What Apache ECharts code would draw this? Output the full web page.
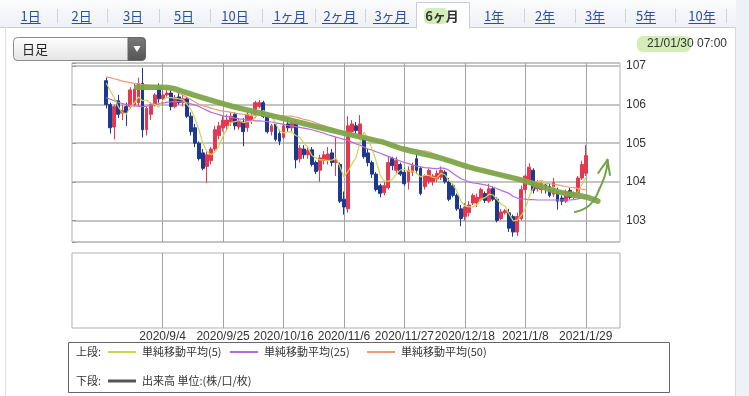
<!DOCTYPE html>
<html><head><meta charset="utf-8">
<script src="https://cdn.jsdelivr.net/npm/echarts@6/dist/echarts.min.js"></script>
<style>html,body{margin:0;padding:0;background:#fff;}#c{width:749px;height:396px;}</style>
</head><body><div id="c"></div>
<script>
// ---------- data ----------
const dates = [
'2020/8/17','2020/8/18','2020/8/19','2020/8/20','2020/8/21',
'2020/8/24','2020/8/25','2020/8/26','2020/8/27','2020/8/28',
'2020/8/31','2020/9/1','2020/9/2','2020/9/3','2020/9/4',
'2020/9/7','2020/9/8','2020/9/9','2020/9/10','2020/9/11',
'2020/9/14','2020/9/15','2020/9/16','2020/9/17','2020/9/18',
'2020/9/21','2020/9/22','2020/9/23','2020/9/24','2020/9/25',
'2020/9/28','2020/9/29','2020/9/30','2020/10/1','2020/10/2',
'2020/10/5','2020/10/6','2020/10/7','2020/10/8','2020/10/9',
'2020/10/12','2020/10/13','2020/10/14','2020/10/15','2020/10/16',
'2020/10/19','2020/10/20','2020/10/21','2020/10/22','2020/10/23',
'2020/10/26','2020/10/27','2020/10/28','2020/10/29','2020/10/30',
'2020/11/2','2020/11/3','2020/11/4','2020/11/5','2020/11/6',
'2020/11/9','2020/11/10','2020/11/11','2020/11/12','2020/11/13',
'2020/11/16','2020/11/17','2020/11/18','2020/11/19','2020/11/20',
'2020/11/23','2020/11/24','2020/11/25','2020/11/26','2020/11/27',
'2020/11/30','2020/12/1','2020/12/2','2020/12/3','2020/12/4',
'2020/12/7','2020/12/8','2020/12/9','2020/12/10','2020/12/11',
'2020/12/14','2020/12/15','2020/12/16','2020/12/17','2020/12/18',
'2020/12/21','2020/12/22','2020/12/23','2020/12/24','2020/12/25',
'2020/12/28','2020/12/29','2020/12/30','2020/12/31','2021/1/1',
'2021/1/4','2021/1/5','2021/1/6','2021/1/7','2021/1/8',
'2021/1/11','2021/1/12','2021/1/13','2021/1/14','2021/1/15',
'2021/1/18','2021/1/19','2021/1/20','2021/1/21','2021/1/22',
'2021/1/25','2021/1/26','2021/1/27','2021/1/28','2021/1/29'];
const padLeft = ['L0','L1','L2','L3','L4','L5','L6','L7'];
const padRight = ['R0','R1','R2','R3','R4','R5','R6','R7'];
const dateTicks = ['2020/9/4','2020/9/25','2020/10/16','2020/11/6','2020/11/27','2020/12/18','2021/1/8','2021/1/29'];
const priceTicks = [103,104,105,106,107];

const opens = [106.62,106.00,105.42,106.10,105.78,105.95,105.95,106.00,106.05,106.55,
105.35,105.75,106.00,106.45,106.15,106.25,106.30,105.95,106.20,106.05,
106.15,105.70,105.40,105.00,104.75,104.40,104.55,104.85,105.20,105.40,
105.45,105.55,105.75,105.42,105.55,105.40,105.60,105.75,105.95,106.05,
105.70,105.30,105.50,105.25,105.15,105.50,105.40,105.52,104.60,104.85,
104.70,104.83,104.50,104.30,104.55,104.55,104.75,104.50,104.45,103.55,
103.30,105.30,105.45,105.20,105.10,104.75,104.50,104.20,103.90,103.72,
103.85,104.60,104.30,104.45,104.25,104.00,104.25,104.60,104.35,103.88,
104.00,104.00,104.08,104.12,104.25,104.00,103.90,103.65,103.30,103.10,
103.20,103.45,103.45,103.55,103.70,103.50,103.82,103.55,103.05,103.20,
103.20,103.10,102.70,103.05,103.80,104.00,104.30,103.82,103.80,103.92,
103.88,103.68,103.75,103.58,103.50,103.78,103.60,103.72,104.10,104.22];
const closes = [106.00,105.40,105.95,105.75,105.85,105.80,106.38,106.40,106.55,105.35,
105.90,106.00,106.25,106.15,106.25,106.30,105.95,106.18,106.05,106.15,
105.70,105.30,105.00,104.60,104.35,104.70,104.85,105.35,105.45,105.60,
105.60,105.70,105.45,105.58,105.30,105.75,105.70,106.05,106.05,105.70,
105.30,105.45,105.10,105.05,105.45,105.40,105.52,104.57,104.87,104.70,
104.82,104.45,104.27,104.62,104.70,104.72,104.50,104.55,103.50,103.35,
105.45,105.50,105.33,105.50,104.65,104.50,104.20,103.80,103.70,103.90,
104.50,104.42,104.55,104.20,103.95,104.30,104.42,104.30,103.70,104.15,
104.30,104.15,104.22,104.30,104.00,103.55,103.65,103.30,103.05,103.35,
103.40,103.65,103.60,103.80,103.52,103.82,103.55,103.00,103.22,103.25,
102.80,102.70,103.10,103.80,104.15,104.38,103.78,103.95,103.95,103.82,
103.65,103.98,103.50,103.50,103.75,103.60,103.70,104.10,104.45,104.68];
const lows = [105.90,105.25,105.10,105.65,105.60,105.45,105.90,105.95,105.95,105.15,
105.20,105.60,105.95,106.05,106.00,106.20,105.85,105.90,106.00,105.95,
105.65,105.20,104.90,104.55,104.30,103.97,104.45,104.80,105.10,105.30,
105.35,105.45,105.35,105.35,104.92,105.30,105.50,105.65,105.90,105.65,
105.25,105.20,105.05,104.95,105.10,105.30,105.30,104.35,104.50,104.60,
104.60,104.40,104.20,104.00,104.45,104.45,104.40,104.15,103.45,103.15,
103.20,105.20,105.25,105.10,104.60,104.40,104.10,103.75,103.60,103.65,
103.80,104.30,104.20,104.15,103.90,103.80,104.15,104.20,103.65,103.80,
103.95,103.90,104.00,104.05,103.95,103.50,103.60,103.25,102.85,103.00,
103.10,103.40,103.35,103.50,103.45,103.45,103.50,102.95,103.00,103.15,
102.70,102.58,102.60,103.00,103.70,103.95,103.70,103.75,103.70,103.70,
103.60,103.60,103.28,103.40,103.45,103.55,103.55,103.65,104.05,104.15];
const highs = [106.70,106.05,106.00,106.25,106.00,106.05,106.45,106.55,106.70,106.95,
105.95,106.05,106.30,106.55,106.40,106.40,106.40,106.25,106.35,106.25,
106.20,105.80,105.50,105.05,104.85,104.78,104.90,105.45,105.55,105.70,
105.75,105.80,105.80,105.65,105.65,105.80,105.80,106.10,106.12,106.10,
105.80,105.50,105.55,105.35,105.55,105.65,105.60,105.60,104.95,104.95,
104.90,104.90,104.55,104.70,104.80,104.90,104.85,105.15,104.50,103.75,
105.70,105.60,105.55,105.73,105.20,104.85,104.55,104.25,103.95,104.00,
104.65,104.65,104.65,104.50,104.35,104.40,104.50,104.74,104.40,104.20,
104.35,104.20,104.30,104.40,104.30,104.10,103.95,103.70,103.40,103.45,
103.50,103.70,103.70,103.85,103.75,103.95,103.88,103.60,103.30,103.30,
103.30,103.15,103.20,103.90,104.20,104.48,104.35,104.05,104.00,103.98,
103.95,104.10,103.85,103.65,103.80,103.85,103.75,104.15,104.55,104.95];
const ma5 = [106.56,106.36,106.17,105.94,105.79,105.75,105.95,106.04,106.20,106.10,
106.12,106.04,106.01,105.93,106.11,106.19,106.18,106.17,106.15,106.13,
106.01,105.88,105.64,105.35,104.99,104.79,104.70,104.77,104.94,105.19,
105.37,105.54,105.56,105.59,105.53,105.56,105.56,105.68,105.77,105.85,
105.76,105.71,105.52,105.32,105.27,105.29,105.30,105.20,105.16,105.01,
104.90,104.68,104.62,104.57,104.57,104.55,104.56,104.62,104.39,104.12,
104.27,104.47,104.63,105.03,105.29,105.10,104.84,104.53,104.17,104.02,
104.02,104.06,104.21,104.31,104.32,104.28,104.28,104.23,104.13,104.17,
104.17,104.12,104.10,104.22,104.19,104.04,103.94,103.76,103.51,103.38,
103.35,103.35,103.41,103.56,103.59,103.68,103.66,103.54,103.42,103.37,
103.16,102.99,103.01,103.13,103.31,103.63,103.84,104.01,104.04,103.98,
103.83,103.87,103.78,103.69,103.68,103.67,103.61,103.73,103.92,104.11];
const ma25 = [106.18,106.14,106.10,106.06,106.03,106.00,105.98,105.97,105.96,105.95,
105.96,105.98,106.00,106.02,106.04,106.06,106.07,106.08,106.08,106.07,
106.05,106.02,105.99,105.95,105.90,105.85,105.80,105.77,105.74,105.71,
105.69,105.67,105.65,105.63,105.62,105.60,105.59,105.58,105.58,105.57,
105.56,105.55,105.53,105.51,105.49,105.46,105.45,105.43,105.41,105.39,
105.37,105.35,105.32,105.29,105.26,105.22,105.19,105.16,105.13,105.10,
105.07,105.03,104.98,104.95,104.90,104.85,104.82,104.78,104.74,104.70,
104.66,104.62,104.58,104.54,104.50,104.47,104.44,104.41,104.39,104.37,
104.36,104.35,104.34,104.36,104.35,104.30,104.22,104.15,104.08,104.04,
104.00,103.97,103.96,103.94,103.92,103.90,103.86,103.82,103.78,103.74,
103.70,103.62,103.58,103.56,103.55,103.54,103.54,103.53,103.53,103.53,
103.53,103.53,103.53,103.53,103.53,103.53,103.54,103.56,103.58,103.60];
const ma50 = [106.72,106.70,106.67,106.64,106.61,106.59,106.57,106.55,106.54,106.52,
106.51,106.50,106.49,106.48,106.45,106.42,106.38,106.34,106.30,106.25,
106.19,106.13,106.07,106.01,105.97,105.94,105.91,105.88,105.85,105.83,
105.82,105.80,105.78,105.76,105.75,105.74,105.73,105.73,105.72,105.72,
105.72,105.72,105.72,105.71,105.71,105.70,105.70,105.68,105.65,105.62,
105.60,105.57,105.53,105.49,105.46,105.42,105.39,105.35,105.31,105.28,
105.25,105.22,105.19,105.16,105.13,105.10,105.07,105.04,105.01,104.98,
104.95,104.93,104.91,104.89,104.87,104.86,104.84,104.83,104.81,104.80,
104.78,104.74,104.70,104.65,104.60,104.56,104.52,104.48,104.45,104.42,
104.39,104.36,104.33,104.30,104.28,104.25,104.23,104.20,104.18,104.15,
104.12,104.10,104.08,104.06,104.05,104.03,104.01,104.00,103.98,103.97,
103.95,103.94,103.92,103.90,103.88,103.86,103.85,103.83,103.81,103.80];
// hand-drawn annotation (position in bar-width units from the left edge, price)
const trendX = [16.1,21.9,25.1,30.1,38.5,43.5,49.2,51.7,67.3,76.7,82.2,91.3,99.3,112.4,119.9,127.8,130.5];
const trendY = [106.45,106.45,106.42,106.25,105.99,105.86,105.72,105.66,105.26,105.04,104.85,104.62,104.36,104.02,103.76,103.60,103.50];
const arrowX = [124.8,128.6,131.0,132.7,132.9];
const arrowY = [103.22,103.41,103.84,104.35,104.57];
const headX = [130.6,132.9,133.5];
const headY = [104.23,104.57,104.18];

// ---------- build ----------
const cats = padLeft.concat(dates, padRight);
const nCats = cats.length;
const gap = padLeft.map(() => '-');
const gapR = padRight.map(() => '-');
const candles = gap.concat(dates.map((d, i) => [opens[i], closes[i], lows[i], highs[i]]), gapR);
const pad = arr => gap.concat(arr, gapR);
const pairs = (xs, ys) => xs.map((x, i) => [x, ys[i]]);

const FONT = '"Liberation Sans", Arial, "Noto Sans CJK JP", sans-serif';
const JP = '"Noto Sans CJK JP", "Liberation Sans", sans-serif';
const L = 72, R = 129;
const RED = '#e5384e', BLUE = '#1c3890';
const C5 = '#cbd54e', C25 = '#b46be0', C50 = '#f09a7a';
const GREEN = '#7ea548';

const gridLineStyle = { color: '#a2a2a2', width: 1, type: 'solid' };
const vMarks = { symbol: 'none', silent: true, z: 1, label: { show: false }, lineStyle: gridLineStyle,
  emphasis: { disabled: true }, data: dateTicks.map(d => ({ xAxis: d })) };

// chrome
const g = [];
g.push({ type: 'rect', shape: { x: 0, y: 0, width: 749, height: 27 }, style: { fill: { type: 'linear', x: 0, y: 0, x2: 0, y2: 1, colorStops: [{ offset: 0, color: '#fbfcfd' }, { offset: 1, color: '#eef1f5' }] } }, z: 0 });
g.push({ type: 'line', shape: { x1: 0, y1: 27.5, x2: 736, y2: 27.5 }, style: { stroke: '#c9ced6', lineWidth: 1 } });
g.push({ type: 'line', shape: { x1: 5.5, y1: 27, x2: 5.5, y2: 396 }, style: { stroke: '#dcdfe4', lineWidth: 1 } });
g.push({ type: 'rect', shape: { x: 736, y: 0, width: 13, height: 396 }, style: { fill: '#eef1f6' } });
g.push({ type: 'line', shape: { x1: 735.5, y1: 27, x2: 735.5, y2: 396 }, style: { stroke: '#d5d9e0', lineWidth: 1 } });
// selected tab
g.push({ type: 'rect', shape: { x: 416.5, y: 2.5, width: 53, height: 26 }, style: { fill: '#fff', stroke: '#c9ced6', lineWidth: 1 } });
g.push({ type: 'rect', shape: { x: 417, y: 27, width: 52, height: 3 }, style: { fill: '#fff' } });
g.push({ type: 'rect', shape: { x: 424, y: 8, width: 24, height: 16, r: 5 }, style: { fill: '#d4ecb8' } });
const tabs = [['1日',30.7],['2日',81.7],['3日',133],['5日',184],['10日',235],['1ヶ月',290],['2ヶ月',340],['3ヶ月',391],['6ヶ月',442],['1年',494],['2年',545],['3年',595],['5年',646],['10年',702]];
tabs.forEach(([t, cx]) => {
  const sel = t === '6ヶ月';
  g.push({ type: 'text', x: cx, y: 16.5, style: { text: t, fill: sel ? '#333' : '#2b4ea6', font: (sel ? 'bold ' : '') + '13px ' + JP, align: 'center', verticalAlign: 'middle' } });
  if (!sel) {
    const w = t.length === 2 ? 20 : (t.length === 3 ? (t.indexOf('ヶ') >= 0 ? 36 : 27) : 36);
    g.push({ type: 'line', shape: { x1: cx - w / 2, y1: 23.5, x2: cx + w / 2, y2: 23.5 }, style: { stroke: '#2b4ea6', lineWidth: 1 } });
  }
});
[57, 107, 159, 210, 262, 315, 365, 524, 575, 625, 675, 726].forEach(x => {
  g.push({ type: 'line', shape: { x1: x + 0.5, y1: 9, x2: x + 0.5, y2: 23 }, style: { stroke: '#cfd4dc', lineWidth: 1 } });
});
// dropdown
g.push({ type: 'rect', shape: { x: 13.5, y: 37.5, width: 132, height: 23, r: 4 }, style: { fill: { type: 'linear', x: 0, y: 0, x2: 0, y2: 1, colorStops: [{ offset: 0, color: '#ffffff' }, { offset: 1, color: '#e4e4e4' }] }, stroke: '#8c8c8c', lineWidth: 1 } });
g.push({ type: 'rect', shape: { x: 128, y: 37.5, width: 17.5, height: 23, r: [0, 4, 4, 0] }, style: { fill: { type: 'linear', x: 0, y: 0, x2: 0, y2: 1, colorStops: [{ offset: 0, color: '#7a7a7a' }, { offset: 1, color: '#555' }] }, stroke: '#666', lineWidth: 1 } });
g.push({ type: 'polygon', shape: { points: [[133.5, 46], [140.5, 46], [137, 52]] }, style: { fill: '#fff' } });
g.push({ type: 'text', x: 22, y: 49, style: { text: '日足', fill: '#222', font: '13px ' + JP, verticalAlign: 'middle' } });
// timestamp
g.push({ type: 'rect', shape: { x: 637, y: 36, width: 54, height: 16, r: 6 }, style: { fill: '#d4ecb8' } });
g.push({ type: 'text', x: 727, y: 44, style: { text: '21/01/30 07:00', fill: '#333', font: '12px ' + FONT, align: 'right', verticalAlign: 'middle' } });
// legend box
g.push({ type: 'rect', shape: { x: 68.5, y: 342.5, width: 601, height: 50 }, style: { fill: '#fff', stroke: '#666', lineWidth: 1 } });
const lgY1 = 352, lgY2 = 381;
g.push({ type: 'text', x: 76, y: lgY1, style: { text: '上段:', fill: '#333', font: '11px ' + JP, verticalAlign: 'middle' } });
g.push({ type: 'text', x: 76, y: lgY2, style: { text: '下段:', fill: '#333', font: '11px ' + JP, verticalAlign: 'middle' } });
[[108, C5, '単純移動平均(5)'], [230, C25, '単純移動平均(25)'], [367, C50, '単純移動平均(50)']].forEach(([x, c, t]) => {
  g.push({ type: 'line', shape: { x1: x, y1: lgY1, x2: x + 28, y2: lgY1 }, style: { stroke: c, lineWidth: 2 } });
  g.push({ type: 'text', x: x + 34, y: lgY1, style: { text: t, fill: '#333', font: '11px ' + JP, verticalAlign: 'middle' } });
});
g.push({ type: 'line', shape: { x1: 108, y1: lgY2, x2: 136, y2: lgY2 }, style: { stroke: '#555', lineWidth: 3 } });
g.push({ type: 'text', x: 142, y: lgY2, style: { text: '出来高 単位:(株/口/枚)', fill: '#333', font: '11px ' + JP, verticalAlign: 'middle' } });

const option = {
  animation: false,
  backgroundColor: '#fff',
  graphic: { elements: g },
  grid: [
    { left: L, right: R, top: 63, height: 179, show: true, borderColor: '#b0b0b0', borderWidth: 1, backgroundColor: 'transparent' },
    { left: L, right: R, top: 253, height: 75, show: true, borderColor: '#b0b0b0', borderWidth: 1, backgroundColor: 'transparent' }
  ],
  xAxis: [
    { type: 'category', gridIndex: 0, data: cats, boundaryGap: true, axisLine: { show: false }, axisTick: { show: false }, axisLabel: { show: false }, splitLine: { show: false } },
    { type: 'value', gridIndex: 0, min: 0, max: nCats, show: false },
    { type: 'category', gridIndex: 1, data: cats, boundaryGap: true, axisLine: { show: false }, axisTick: { show: false }, splitLine: { show: false },
      axisLabel: { interval: (i, v) => dateTicks.indexOf(v) >= 0, color: '#333', fontSize: 12, fontFamily: FONT, margin: 3 } }
  ],
  yAxis: [
    { type: 'value', gridIndex: 0, position: 'right', min: 102.442, max: 107.078, splitNumber: 5, scale: true,
      axisLine: { show: false }, axisTick: { show: true, length: 4, lineStyle: { color: '#999' } },
      axisLabel: { color: '#333', fontSize: 12, fontFamily: FONT, margin: 6,
        formatter: v => priceTicks.some(p => Math.abs(p - v) < 1e-6) ? String(Math.round(v)) : '' },
      splitLine: { show: true, lineStyle: { color: '#c4c4c4', width: 2 } } },
    { type: 'value', gridIndex: 1, min: 0, max: 1, show: false, splitLine: { show: false } }
  ],
  series: [
    { type: 'line', name: 'grid', xAxisIndex: 0, yAxisIndex: 0, data: cats.map(() => '-'), silent: true, symbol: 'none', z: 1, markLine: vMarks },
    { type: 'line', name: 'grid2', xAxisIndex: 2, yAxisIndex: 1, data: cats.map(() => '-'), silent: true, symbol: 'none', z: 1, markLine: vMarks },
    { type: 'candlestick', name: 'price', xAxisIndex: 0, yAxisIndex: 0, data: candles, barWidth: 3.4, z: 2,
      itemStyle: { color: RED, color0: BLUE, borderColor: RED, borderColor0: BLUE, borderWidth: 1 } },
    { type: 'line', name: 'ma50', xAxisIndex: 0, yAxisIndex: 0, data: pad(ma50), symbol: 'none', z: 3, lineStyle: { color: C50, width: 1.2 } },
    { type: 'line', name: 'ma25', xAxisIndex: 0, yAxisIndex: 0, data: pad(ma25), symbol: 'none', z: 3, lineStyle: { color: C25, width: 1.2 } },
    { type: 'line', name: 'ma5', xAxisIndex: 0, yAxisIndex: 0, data: pad(ma5), symbol: 'none', z: 3, lineStyle: { color: C5, width: 1.2 } },
    { type: 'line', name: 'trend', xAxisIndex: 1, yAxisIndex: 0, data: pairs(trendX, trendY), symbol: 'none', smooth: 0.3, z: 4, silent: true,
      lineStyle: { color: GREEN, width: 5.5, opacity: 0.95, cap: 'round' } },
    { type: 'line', name: 'arrow', xAxisIndex: 1, yAxisIndex: 0, data: pairs(arrowX, arrowY), symbol: 'none', smooth: 0.5, z: 4, silent: true,
      lineStyle: { color: '#6fa344', width: 2, cap: 'round' } },
    { type: 'line', name: 'arrowHead', xAxisIndex: 1, yAxisIndex: 0, data: pairs(headX, headY), symbol: 'none', z: 4, silent: true,
      lineStyle: { color: '#6fa344', width: 2, cap: 'round', join: 'round' } }
  ]
};
const chart = echarts.init(document.getElementById('c'), null, { renderer: 'canvas' });
chart.setOption(option);
</script></body></html>
